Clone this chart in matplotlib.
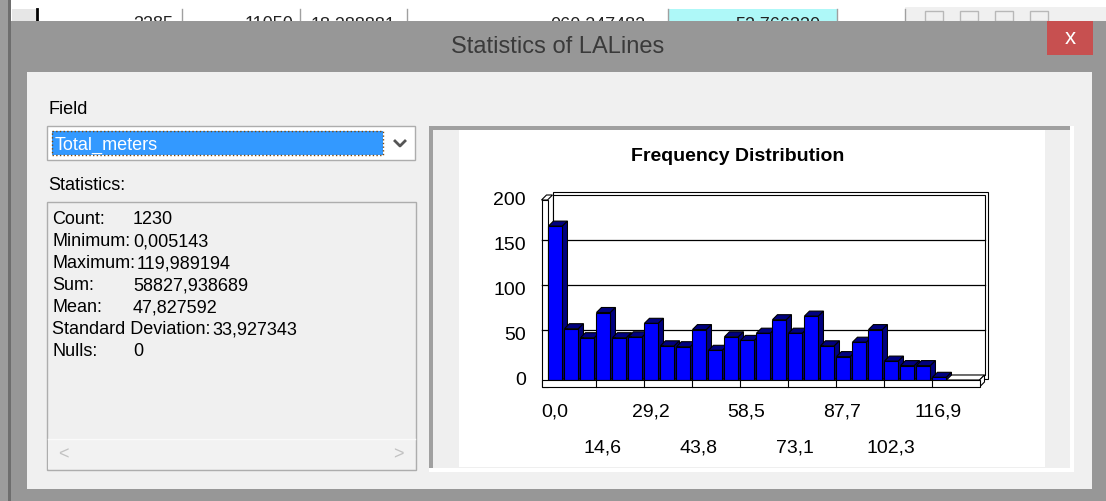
import matplotlib
matplotlib.use('Agg')
import matplotlib.pyplot as plt
from matplotlib.patches import Rectangle, Polygon

plt.rcParams['font.family'] = ['Liberation Sans', 'DejaVu Sans']

# histogram counts (25 bins)
counts = [171, 57, 47, 75, 47, 48, 63, 38, 37, 56, 33, 48, 44, 52, 67,
          52, 71, 38, 26, 42, 56, 21, 16, 16, 3]
x_labels = ['0,0', '14,6', '29,2', '43,8', '58,5', '73,1', '87,7', '102,3', '116,9']
y_ticks = [0, 50, 100, 150, 200]
bins_per_label = 3

stat_labels = ['Count:', 'Minimum:', 'Maximum:', 'Sum:', 'Mean:',
               'Standard Deviation:', 'Nulls:']
stat_values = ['1230', '0,005143', '119,989194', '58827,938689', '47,827592',
               '33,927343', '0']

# table row peeking out above the dialog
table_texts = ['3285', '11050', '18,288881', '060,247482', '52,766330']
table_right = [173, 293, 395, 645, 820]

W, H = 1106, 502
fig = plt.figure(figsize=(W / 100, H / 100), dpi=100)
ui = fig.add_axes([0, 0, 1, 1])
ui.set_xlim(0, W)
ui.set_ylim(H, 0)
ui.axis('off')


def box(x0, y0, x1, y1, fc, ec='none', lw=1.0, z=1, **kw):
    ui.add_patch(Rectangle((x0, y0), x1 - x0, y1 - y0, facecolor=fc,
                           edgecolor=ec, linewidth=lw, zorder=z, **kw))


# --- background window (attribute table) ---
box(0, 0, W, 22, 'white', z=0)
box(12, 10, 36, 22, '#e6e6e6', z=0.5)
box(668, 10, 837, 22, '#aef8f8', z=0.5)
box(905, 8, W, 22, '#f0f0f0', z=0.5)
for xv in [182, 300, 407, 668, 837, 905]:
    ui.plot([xv, xv], [10, 22], color='#a0a0a0', lw=1, zorder=1)
ui.plot([37, 37], [10, 22], color='black', lw=2, zorder=1)
for xv in [925, 960, 995, 1030]:
    box(xv, 12, xv + 18, 22, 'none', ec='#b8b8b8', z=1)
for t, xr in zip(table_texts, table_right):
    ui.text(xr, 16, t, ha='right', va='top', fontsize=13, color='#222222', zorder=2)
box(0, 0, 8, H, '#9c9c9c', z=3)
box(8, 0, 11, H, '#6e6e6e', z=3)

# --- dialog frame ---
box(11, 22, W, H, '#979797', z=5)
box(27, 73, 1092, 490, '#f0f0f0', z=5)
ui.text(558, 47, 'Statistics of LALines', ha='center', va='center',
        fontsize=17, color='#3a3a3a', zorder=6)
box(1047, 22, 1093, 56, '#c75050', z=6)
ui.text(1070, 39, 'x', ha='center', va='center', fontsize=16,
        color='white', zorder=7)

# --- left side controls ---
ui.text(48, 110, 'Field', ha='left', va='center', fontsize=13, color='black', zorder=6)
box(47, 127, 415, 161, 'white', ec='#adadad', z=6)
box(52, 132, 383, 156, '#3399ff', z=7)
box(52, 132, 383, 156, 'none', ec='#7a4a10', lw=1, z=7.5, linestyle=':')
ui.text(55, 145, 'Total_meters', ha='left', va='center', fontsize=13,
        color='white', zorder=8)
ui.plot([395, 400, 405], [142, 147, 142], color='#555555', lw=2, zorder=8)

ui.text(48, 186, 'Statistics:', ha='left', va='center', fontsize=13, color='black', zorder=6)
box(47, 203, 416, 471, '#f0f0f0', ec='#adadad', z=6)
box(48, 440, 415, 470, '#f2f2f2', z=6.5)
ui.plot([48, 415], [440, 440], color='#fafafa', lw=1, zorder=6.6)
ui.text(63, 455, '<', ha='center', va='center', fontsize=13, color='#c2c2c2', zorder=7)
ui.text(398, 455, '>', ha='center', va='center', fontsize=13, color='#c2c2c2', zorder=7)

renderer = fig.canvas.get_renderer()
for i, (lab, val) in enumerate(zip(stat_labels, stat_values)):
    y = 220 + i * 22
    t = ui.text(52, y, lab, ha='left', va='center', fontsize=13, color='black', zorder=7)
    x_end = t.get_window_extent(renderer).x1
    ui.text(max(133, x_end + 2), y, val, ha='left', va='center', fontsize=13,
            color='black', zorder=7)

# --- chart panel ---
box(429, 127, 1074, 473, 'white', z=6)
box(429, 127, 1070, 469, '#a0a0a0', z=6.1)
box(433, 131, 1070, 469, '#efefef', z=6.2)
box(459, 131, 1045, 468, 'white', z=6.3)
ui.text(738, 157, 'Frequency Distribution', ha='center', va='center',
        fontsize=14, fontweight='bold', color='black', zorder=7)

# chart axes: one unit on x = one bin
PX_X, PX_Y = 16.0, 0.9
X0, Y0 = 547.5, 381
n_slots = len(x_labels) * bins_per_label
ax = fig.add_axes([X0 / W, (H - Y0) / H, n_slots * PX_X / W, max(y_ticks) * PX_Y / H])
ax.set_xlim(0, n_slots)
ax.set_ylim(0, max(y_ticks))
ax.axis('off')
ax.patch.set_visible(False)

DX, DY = 5 / PX_X, 5 / PX_Y
WALL, FLOOR = 6 / PX_X, 7 / PX_Y
top = max(y_ticks)


def poly(pts, fc, z, ec='black', lw=0.8):
    ax.add_patch(Polygon(pts, closed=True, facecolor=fc, edgecolor=ec,
                         linewidth=lw, zorder=z, clip_on=False))


# back wall (with a little slab thickness)
poly([(DX, DY), (DX, top + DY + 3.5), (n_slots + DX + 0.22, top + DY + 3.5),
      (n_slots + DX + 0.22, DY - 4)], 'white', 1)
poly([(DX, DY), (DX, top + DY), (n_slots + DX, top + DY), (n_slots + DX, DY)], 'white', 1.1)
for v in y_ticks[1:-1]:
    ax.plot([-WALL, n_slots + DX], [v + DY, v + DY], color='black', lw=0.9,
            zorder=1.2, clip_on=False)

# floor top and right end
poly([(0, 0), (n_slots, 0), (n_slots + DX, DY), (DX, DY)], 'white', 1.3)
poly([(n_slots, -FLOOR), (n_slots, 0), (n_slots + DX, DY), (n_slots + DX, DY - FLOOR)],
     'white', 1.3)

# left wall
poly([(-WALL, -FLOOR), (-WALL, top), (0, top), (0, -FLOOR)], 'white', 1.4)
poly([(-WALL, top), (0, top), (DX, top + DY), (-WALL + DX, top + DY)], 'white', 1.4)
for v in y_ticks[1:-1]:
    ax.plot([-WALL, 0], [v + DY, v + DY], color='black', lw=0.9, zorder=1.45,
            clip_on=False)

# bars
bw = 0.875
bars = ax.bar([i + 0.06 for i in range(len(counts))], counts, width=bw, align='edge',
              color='#0000ff', edgecolor='black', linewidth=0.8, clip_on=False)
for i, (rect, h) in enumerate(zip(bars, counts)):
    x0 = rect.get_x()
    x1 = x0 + bw
    z = 2 + i * 0.01
    poly([(x0, h), (x1, h), (x1 + DX, h + DY), (x0 + DX, h + DY)], '#000080', z)
    poly([(x1, 0), (x1, h), (x1 + DX, h + DY), (x1 + DX, DY)], '#000080', z)
    rect.set_zorder(z + 0.005)

# floor front face with tick segments
poly([(-WALL, -FLOOR), (-WALL, 0), (n_slots, 0), (n_slots, -FLOOR)], 'white', 3)
for k in range(1, len(x_labels)):
    ax.plot([k * bins_per_label] * 2, [-FLOOR, 0], color='black', lw=0.8, zorder=3.1,
            clip_on=False)

# tick labels
for v in y_ticks:
    ax.text((526 - X0) / PX_X, v, str(v), ha='right', va='center', fontsize=14,
            color='black', clip_on=False)
for k, lab in enumerate(x_labels):
    row_px = 412 if k % 2 == 0 else 448
    ax.text(k * bins_per_label + 7 / PX_X, (Y0 - row_px) / PX_Y, lab, ha='center',
            va='center', fontsize=14, color='black', clip_on=False)

fig.savefig('out.png', dpi=100)
